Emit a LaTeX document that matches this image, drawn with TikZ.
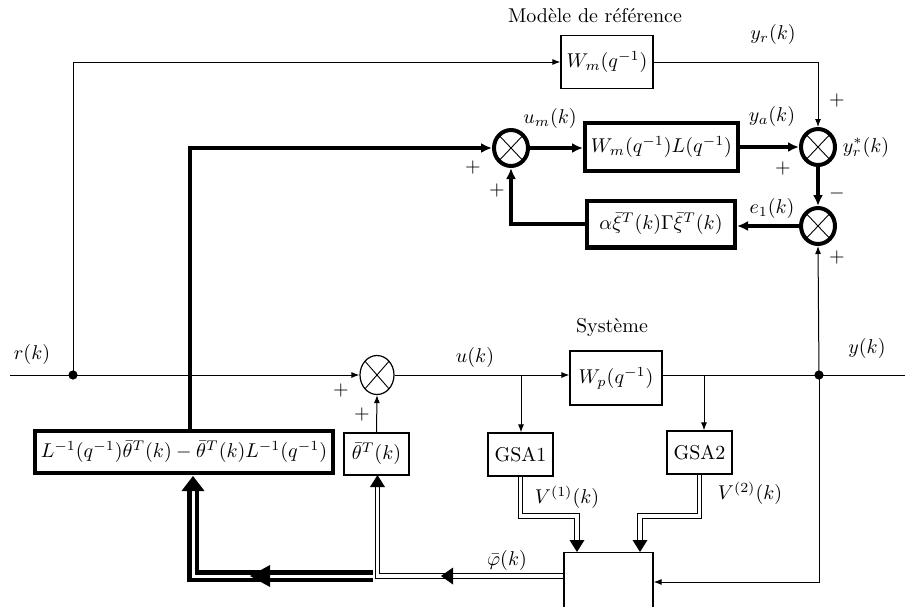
\documentclass[tikz,border=0pt]{standalone}
\usepackage{amsmath}
\usetikzlibrary{arrows.meta,calc,shapes.geometric}
\begin{document}
\begin{tikzpicture}[x=0.5pt,y=-0.5pt,
  ln/.style={line width=0.5pt},
  ar/.style={line width=0.5pt,-{Latex[length=4pt,width=3pt]}},
  tar/.style={line width=2pt,-{Latex[length=5.5pt,width=5pt]}},
  box/.style={draw,line width=0.6pt,inner sep=0pt},
  tbox/.style={draw,line width=2.2pt,inner sep=0pt},
  xcross/.style={path picture={\draw[line width=0.45pt]
     (path picture bounding box.north west) -- (path picture bounding box.south east)
     (path picture bounding box.north east) -- (path picture bounding box.south west);}},
  sumthin/.style={ellipse,draw,line width=0.6pt,inner sep=0pt,minimum width=17pt,minimum height=19.5pt,xcross},
  sumthick/.style={ellipse,draw,line width=2pt,inner sep=0pt,minimum width=17pt,minimum height=18pt,xcross},
  dbl/.style={draw=black,line width=0.45pt,double=white,double distance=1.7pt},
  bdbl/.style={draw=black,line width=2.2pt,double=white,double distance=1.5pt},
  lab/.style={inner sep=0pt}
]
\useasboundingbox (0,0) rectangle (905,606);
\clip (0,0) rectangle (905,606);

% blocks
\node[box,minimum width=46pt,minimum height=26.5pt] (wm) at (607,62) {$W_m(q^{-1})$};
\node[tbox,minimum width=76.3pt,minimum height=23.8pt] (wml) at (661.5,147) {$W_m(q^{-1})L(q^{-1})$};
\node[tbox,minimum width=73.8pt,minimum height=23.3pt] (alx) at (661,224) {$\alpha\bar{\xi}^T(k)\Gamma\bar{\xi}^T(k)$};
\node[sumthick] (sm) at (511,148) {};
\node[sumthick] (sy) at (818,147) {};
\node[sumthick] (se) at (818,226) {};
\node[sumthin] (su) at (377,375) {};
\node[box,minimum width=46pt,minimum height=27pt] (wp) at (616,378) {$W_p(q^{-1})$};
\node[box,minimum width=32.5pt,minimum height=21.5pt] (g1) at (520.5,454.5) {GSA1};
\node[box,minimum width=32.5pt,minimum height=21.5pt] (g2) at (699.5,452.5) {GSA2};
\node[tbox,minimum width=148.8pt,minimum height=20.8pt] (li) at (184,452) {$L^{-1}(q^{-1})\bar{\theta}^T(k)-\bar{\theta}^T(k)L^{-1}(q^{-1})$};
\node[box,minimum width=32.5pt,minimum height=21pt] (th) at (376.5,454) {$\bar{\theta}^T(k)$};
\node[box,minimum width=44.5pt,minimum height=60pt,anchor=north] (bx) at (608.5,552) {};

% coordinates
\coordinate (rin) at (10,375);
\coordinate (rdot) at (73,375);
\coordinate (ydot) at (819,375);
\coordinate (yout) at (905,375);
\coordinate (t1) at (521,375);
\coordinate (t2) at (704,375);
\coordinate (bxin) at ([yshift=-15pt]bx.north east);
\coordinate (bxout) at ([yshift=-12pt]bx.north west);
\coordinate (lt) at ([xshift=3pt]li.north);

% reference model branch
\draw[ln] (rin) -- (rdot);
\draw[ar] (rdot) -- (su.west);
\draw[ar] (rdot) |- (wm.west);
\draw[ar] (wm.east) -| (sy.north);
\draw[tar] (sy.south) -- (se.north);
\draw[ar] (ydot) -- (se.south);
\draw[tar] (se.west) -- (se.west -| alx.east);
\draw[tar] (alx.west) -| (sm.south);
\draw[tar] (lt) |- (sm.west);
\draw[tar] (sm.east) -- (sm.east -| wml.west);
\draw[tar] (wml.east) -- (wml.east -| sy.west);

% system branch
\draw[ar] (su.east) -- (su.east -| wp.west);
\draw[ln] (wp.east |- ydot) -- (yout);
\draw[ar] (t1) -- (t1 |- g1.north);
\draw[ar] (t2) -- (t2 |- g2.north);
\draw[ar] (th.north) -- (su.south);
\draw[ar] (ydot) |- (bxin);
\fill (rdot) circle (2.3pt);
\fill (ydot) circle (2.3pt);

% double lines
\draw[dbl] (g1.south) |- (577,516) -- (577,540);
\draw[dbl] (g2.south) |- (640,516) -- (640,540);
\draw[dbl] (bxout) -- (377.5,576) -- (377.5,487);
\draw[bdbl] (373,576) -- (193,576) -- (193,490);

% arrowheads
\fill (577,552) -- (569.5,540) -- (584.5,540) -- cycle;
\fill (640,552) -- (632.5,540) -- (647.5,540) -- cycle;
\fill (441,576) -- (453,567.5) -- (453,584.5) -- cycle;
\fill (377.5,475) -- (370,487) -- (385,487) -- cycle;
\fill (193,476) -- (181.5,491) -- (204.5,491) -- cycle;
\fill (250,576) -- (270,565) -- (270,587) -- cycle;

% labels
\node[lab] at (595,16) {Modèle de référence};
\node[lab] at (773,34) {$y_r(k)$};
\node[lab] at (550,118) {$u_m(k)$};
\node[lab] at (772,116) {$y_a(k)$};
\node[lab] at (866,147) {$y_r^*(k)$};
\node[lab] at (772,208) {$e_1(k)$};
\node[lab] at (473,167) {$+$};
\node[lab] at (497,190) {$+$};
\node[lab] at (783,168) {$+$};
\node[lab] at (837,100) {$+$};
\node[lab] at (837,193) {$-$};
\node[lab] at (837,257) {$+$};
\node[lab] at (32,354) {$r(k)$};
\node[lab] at (341,390) {$+$};
\node[lab] at (362,414) {$+$};
\node[lab] at (475,357) {$u(k)$};
\node[lab] at (612,327) {Système};
\node[lab] at (867,348) {$y(k)$};
\node[lab] at (567,497) {$V^{(1)}(k)$};
\node[lab] at (750,493) {$V^{(2)}(k)$};
\node[lab] at (507,560) {$\bar{\varphi}(k)$};
\end{tikzpicture}
\end{document}
